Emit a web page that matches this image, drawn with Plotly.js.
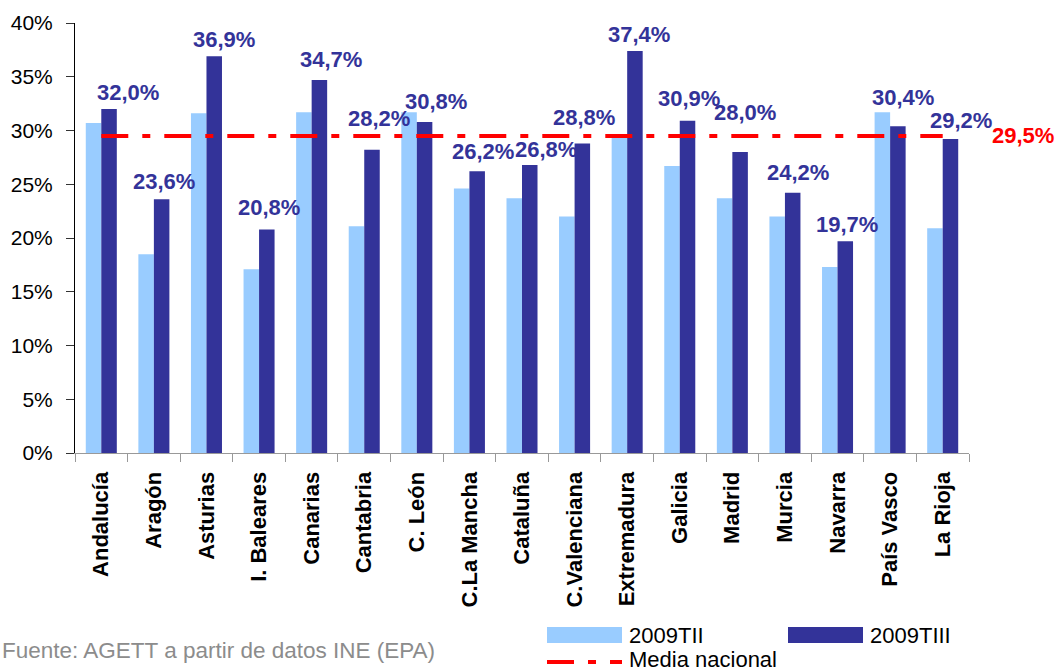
<!DOCTYPE html>
<html>
<head>
<meta charset="utf-8">
<script src="https://cdn.plot.ly/plotly-3.0.1.min.js"></script>
<style>html,body{margin:0;padding:0;background:#fff;}#chart{width:1061px;height:671px;}</style>
</head>
<body>
<div id="chart"></div>
<script>
// ---- data ----
const categories = ['Andalucía','Aragón','Asturias','I. Baleares','Canarias','Cantabria','C. León','C.La Mancha','Cataluña','C.Valenciana','Extremadura','Galicia','Madrid','Murcia','Navarra','País Vasco','La Rioja'];
const serie2009TII = [30.7,18.5,31.6,17.1,31.7,21.1,31.7,24.6,23.7,22.0,29.5,26.7,23.7,22.0,17.3,31.7,20.9];
const serie2009TIII = [32.0,23.6,36.9,20.8,34.7,28.2,30.8,26.2,26.8,28.8,37.4,30.9,28.0,24.2,19.7,30.4,29.2];
const mediaNacional = 29.5;
const yTickValues = [0,5,10,15,20,25,30,35,40];
const yTickLabels = ['0%','5%','10%','15%','20%','25%','30%','35%','40%'];
const seriesNames = ['2009TII','2009TIII','Media nacional'];
const sourceText = 'Fuente: AGETT a partir de datos INE (EPA)';

// ---- label placement nudges (pixels, styling only) ----
const labelXShift = [27,10,17.5,10,19,15,19,13.5,24,9,12,9.5,12.5,13,9,12.5,18];
const labelGap = [7,8,7,12,11,22,11,10,6,16,7,13,30,11,7,19,9];

const FONT = '"Liberation Sans", Arial, sans-serif';
const LIGHT = '#99CCFF', DARK = '#333399', RED = '#FF0000';
const fmt = v => v.toFixed(1).replace('.', ',') + '%';

const W = 1061, H = 671;
const M = {l:75, r:92, t:23, b:218};
const PW = W - M.l - M.r, PH = H - M.t - M.b;
const px = x => (x - M.l) / PW;
const py = y => (H - M.b - y) / PH;
const DASH = '27px,14px,8px,14px';

const traces = [
  {type:'bar', name:seriesNames[0], x:categories, y:serie2009TII, marker:{color:LIGHT}, hoverinfo:'skip'},
  {type:'bar', name:seriesNames[1], x:categories, y:serie2009TIII, marker:{color:DARK}, hoverinfo:'skip'},
  {type:'scatter', mode:'lines', name:seriesNames[2], x:categories, y:categories.map(() => mediaNacional),
   line:{color:RED, width:4, dash:DASH}, hoverinfo:'skip'}
];

const annotations = serie2009TIII.map((v, i) => ({
  x:i, y:v, xref:'x', yref:'y', text:fmt(v), showarrow:false,
  xanchor:'center', yanchor:'bottom', xshift:labelXShift[i], yshift:labelGap[i] - 5,
  font:{family:FONT, size:22, color:DARK, weight:'bold'}
}));
annotations.push({
  x:categories.length - 1, y:mediaNacional, xref:'x', yref:'y', text:fmt(mediaNacional), showarrow:false,
  xanchor:'left', yanchor:'middle', xshift:47, font:{family:FONT, size:22, color:RED, weight:'bold'}
});
annotations.push({
  x:px(0), y:py(650), xref:'paper', yref:'paper', text:sourceText, showarrow:false,
  xanchor:'left', yanchor:'middle', font:{family:FONT, size:22.5, color:'#8c8c8c'}
});
annotations.push({x:px(627), y:py(635), xref:'paper', yref:'paper', text:seriesNames[0], showarrow:false,
  xanchor:'left', yanchor:'middle', font:{family:FONT, size:22, color:'#000'}});
annotations.push({x:px(868), y:py(635), xref:'paper', yref:'paper', text:seriesNames[1], showarrow:false,
  xanchor:'left', yanchor:'middle', font:{family:FONT, size:22, color:'#000'}});
annotations.push({x:px(627), y:py(659), xref:'paper', yref:'paper', text:seriesNames[2], showarrow:false,
  xanchor:'left', yanchor:'middle', font:{family:FONT, size:22, color:'#000'}});

const shapes = [
  {type:'rect', xref:'paper', yref:'paper', x0:px(547), x1:px(622), y0:py(643), y1:py(627), fillcolor:LIGHT, line:{width:0}},
  {type:'rect', xref:'paper', yref:'paper', x0:px(788), x1:px(863), y0:py(643), y1:py(627), fillcolor:DARK, line:{width:0}},
  {type:'line', xref:'paper', yref:'paper', x0:px(547), x1:px(622), y0:py(662), y1:py(662), line:{color:RED, width:4, dash:DASH}}
];

const layout = {
  width:W, height:H, margin:M,
  paper_bgcolor:'#fff', plot_bgcolor:'#fff',
  showlegend:false, barmode:'group', bargap:0.41, bargroupgap:0,
  font:{family:FONT, color:'#000'},
  xaxis:{type:'category', range:[-0.5, categories.length - 0.5], autorange:false,
    tickson:'boundaries', ticks:'outside', ticklen:8, tickcolor:'#999', tickwidth:1,
    showline:true, linecolor:'#999', linewidth:1, showgrid:false, zeroline:false, tickangle:-90,
    ticklabelstandoff:9, tickfont:{family:FONT, size:22, color:'#000', weight:'bold'}, fixedrange:true},
  yaxis:{range:[0,40], autorange:false, tickvals:yTickValues, ticktext:yTickLabels, ticks:'outside', ticklen:8, tickcolor:'#333',
    showline:true, linecolor:'#000', linewidth:1, showgrid:false, zeroline:false,
    ticklabelstandoff:9, tickfont:{family:FONT, size:21, color:'#000'}, fixedrange:true},
  annotations, shapes
};

Plotly.newPlot('chart', traces, layout, {staticPlot:true, displayModeBar:false});
</script>
</body>
</html>
